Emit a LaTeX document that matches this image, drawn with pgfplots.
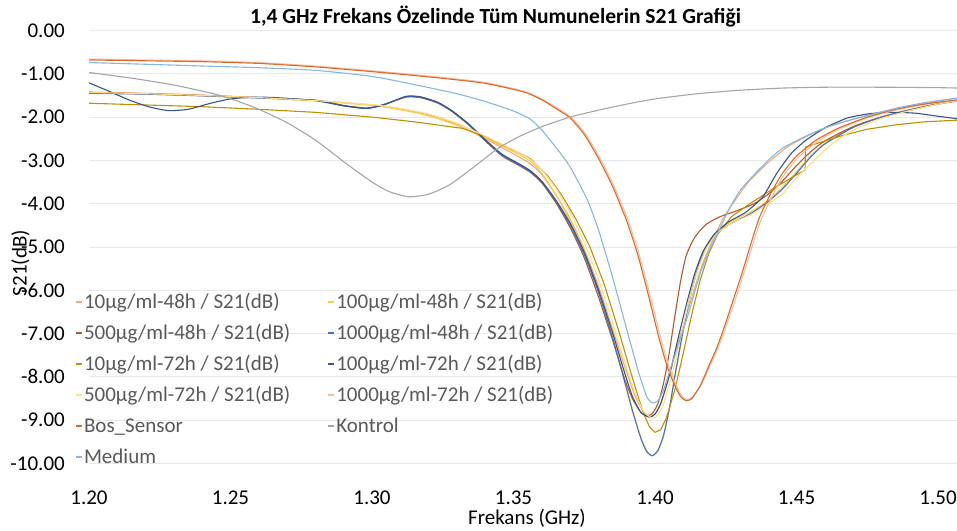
\documentclass[border=0pt]{standalone}
\usepackage{pgfplots}
\pgfplotsset{compat=1.18}
\usepackage{fontspec}
\setmainfont{Carlito}
\definecolor{c1}{HTML}{F1A97A}
\definecolor{c2}{HTML}{FFCB4C}
\definecolor{c3}{HTML}{B4582A}
\definecolor{c4}{HTML}{4472C4}
\definecolor{c5}{HTML}{BF9000}
\definecolor{c6}{HTML}{35558F}
\definecolor{c7}{HTML}{FFDF80}
\definecolor{c8}{HTML}{F8BE9A}
\definecolor{c9}{HTML}{DB6A2C}
\definecolor{c10}{HTML}{A5A5A5}
\definecolor{c11}{HTML}{86B6E2}
\definecolor{gridgray}{HTML}{E8E8E8}
\definecolor{leggray}{HTML}{595959}
\begin{document}
\begin{tikzpicture}
\begin{axis}[
  at={(89bp,67.5bp)}, anchor=south west,
  scale only axis, width=868bp, height=433bp,
  xmin=1.2, xmax=1.5067, ymin=-10, ymax=0,
  xtick={1.20,1.25,1.30,1.35,1.40,1.45,1.50},
  ytick={0,-1,-2,-3,-4,-5,-6,-7,-8,-9,-10},
  axis line style={draw=none},
  major tick length=0pt,
  ymajorgrids, grid style={color=gridgray, line width=0.8bp},
  /pgf/number format/assume math mode=true,
  tick label style={font=\fontsize{21bp}{25bp}\selectfont, text=black, inner sep=0pt},
  xticklabel style={anchor=base, yshift=-40.8bp, /pgf/number format/.cd, fixed, fixed zerofill, precision=2},
  yticklabel style={anchor=east, xshift=-24bp, /pgf/number format/.cd, fixed, fixed zerofill, precision=2},
  every axis plot/.append style={line width=1.1bp, smooth, tension=0.35},
  legend columns=2,
  legend cell align=left,
  legend image code/.code={\draw[#1, line width=2bp, sharp plot] (0bp,0.28em) -- (6bp,0.28em);},
  legend style={draw=none, fill=none, inner sep=0pt, outer sep=0pt,
    at={(axis description cs:-0.0161,0.3915)}, anchor=north west,
    font=\fontsize{21bp}{25bp}\selectfont, text=leggray,
    row sep=10bp,
    nodes={inner sep=1bp, text height=14bp, text depth=5bp},
    /tikz/column 2/.style={column sep=36bp}},
]
% 10ug/ml-48h
\addplot[c1] coordinates {(1.200,-1.42)(1.220,-1.45)(1.240,-1.49)(1.260,-1.55)(1.280,-1.62)(1.300,-1.72)(1.310,-1.81)(1.320,-1.95)(1.330,-2.17)(1.340,-2.50)(1.350,-2.85)(1.356,-3.08)(1.360,-3.33)(1.365,-3.80)(1.370,-4.35)(1.375,-5.05)(1.380,-5.90)(1.385,-6.90)(1.390,-7.90)(1.393,-8.45)(1.396,-8.82)(1.398,-8.92)(1.400,-8.86)(1.402,-8.62)(1.405,-8.00)(1.408,-7.25)(1.411,-6.60)(1.414,-5.95)(1.417,-5.35)(1.420,-4.90)(1.424,-4.35)(1.428,-3.95)(1.433,-3.50)(1.440,-3.05)(1.447,-2.68)(1.455,-2.40)(1.462,-2.20)(1.470,-2.05)(1.480,-1.88)(1.490,-1.74)(1.500,-1.63)(1.507,-1.56)};
\addlegendentry{10µg/ml-48h / S21(dB)}
% 100ug/ml-48h
\addplot[c2] coordinates {(1.200,-1.44)(1.220,-1.47)(1.240,-1.51)(1.260,-1.56)(1.280,-1.63)(1.300,-1.73)(1.310,-1.83)(1.320,-1.97)(1.330,-2.19)(1.340,-2.48)(1.350,-2.80)(1.356,-3.02)(1.360,-3.30)(1.365,-3.80)(1.370,-4.40)(1.375,-5.10)(1.380,-6.00)(1.385,-7.05)(1.389,-8.00)(1.392,-8.75)(1.395,-9.40)(1.397,-9.70)(1.399,-9.82)(1.401,-9.72)(1.403,-9.38)(1.405,-8.78)(1.407,-8.02)(1.410,-6.95)(1.413,-6.00)(1.416,-5.30)(1.419,-4.88)(1.423,-4.58)(1.428,-4.38)(1.434,-4.18)(1.440,-3.92)(1.445,-3.62)(1.450,-3.26)(1.455,-2.90)(1.460,-2.60)(1.470,-2.22)(1.480,-1.99)(1.490,-1.83)(1.500,-1.69)(1.507,-1.62)};
\addlegendentry{100µg/ml-48h / S21(dB)}
% 500ug/ml-48h
\addplot[c3] coordinates {(1.200,-1.43)(1.220,-1.46)(1.240,-1.50)(1.260,-1.55)(1.280,-1.61)(1.290,-1.73)(1.298,-1.79)(1.304,-1.71)(1.312,-1.54)(1.317,-1.55)(1.323,-1.67)(1.328,-1.86)(1.334,-2.17)(1.340,-2.55)(1.346,-2.90)(1.352,-3.12)(1.356,-3.28)(1.360,-3.52)(1.365,-3.98)(1.370,-4.55)(1.375,-5.25)(1.380,-6.15)(1.385,-7.15)(1.389,-8.00)(1.392,-8.50)(1.395,-8.82)(1.397,-8.90)(1.399,-8.85)(1.401,-8.62)(1.403,-8.15)(1.405,-7.45)(1.407,-6.60)(1.409,-5.80)(1.411,-5.20)(1.414,-4.78)(1.418,-4.48)(1.423,-4.30)(1.429,-4.16)(1.435,-4.00)(1.440,-3.78)(1.445,-3.48)(1.450,-3.12)(1.455,-2.80)(1.460,-2.55)(1.470,-2.22)(1.480,-2.00)(1.490,-1.83)(1.500,-1.69)(1.507,-1.62)};
\addlegendentry{500µg/ml-48h / S21(dB)}
% 1000ug/ml-48h
\addplot[c4] coordinates {(1.200,-1.45)(1.220,-1.47)(1.240,-1.51)(1.260,-1.56)(1.280,-1.61)(1.290,-1.74)(1.298,-1.80)(1.304,-1.72)(1.312,-1.53)(1.317,-1.54)(1.323,-1.66)(1.328,-1.85)(1.334,-2.16)(1.340,-2.54)(1.346,-2.88)(1.352,-3.10)(1.356,-3.26)(1.360,-3.50)(1.365,-3.95)(1.370,-4.50)(1.375,-5.18)(1.380,-6.05)(1.385,-7.10)(1.389,-8.05)(1.392,-8.78)(1.395,-9.42)(1.397,-9.72)(1.399,-9.82)(1.401,-9.70)(1.403,-9.35)(1.405,-8.75)(1.407,-7.98)(1.410,-6.90)(1.413,-5.98)(1.416,-5.32)(1.419,-4.92)(1.423,-4.62)(1.428,-4.42)(1.434,-4.22)(1.440,-3.95)(1.445,-3.66)(1.450,-3.30)(1.455,-2.92)(1.460,-2.62)(1.470,-2.24)(1.480,-2.00)(1.490,-1.84)(1.500,-1.70)(1.507,-1.63)};
\addlegendentry{1000µg/ml-48h / S21(dB)}
% 10ug/ml-72h
\addplot[c5, sharp plot] coordinates {(1.200,-1.68)(1.220,-1.72)(1.240,-1.76)(1.260,-1.82)(1.280,-1.89)(1.300,-2.00)(1.315,-2.11)(1.332,-2.26)(1.340,-2.45)(1.348,-2.70)(1.356,-2.96)(1.362,-3.35)(1.367,-3.80)(1.372,-4.35)(1.377,-5.00)(1.382,-5.85)(1.387,-6.90)(1.391,-7.80)(1.394,-8.45)(1.396,-8.85)(1.398,-9.15)(1.400,-9.28)(1.402,-9.22)(1.404,-8.95)(1.407,-8.30)(1.410,-7.45)(1.413,-6.55)(1.416,-5.75)(1.419,-5.15)(1.422,-4.72)(1.427,-4.30)(1.434,-3.98)(1.443,-3.60)(1.453,-3.22)(1.4532,-2.69)(1.460,-2.55)(1.467,-2.41)(1.475,-2.28)(1.485,-2.18)(1.495,-2.11)(1.507,-2.07)};
\addlegendentry{10µg/ml-72h / S21(dB)}
% 100ug/ml-72h
\addplot[c6] coordinates {(1.200,-1.21)(1.207,-1.40)(1.214,-1.60)(1.221,-1.76)(1.228,-1.85)(1.235,-1.82)(1.243,-1.68)(1.250,-1.58)(1.258,-1.54)(1.266,-1.55)(1.280,-1.62)(1.290,-1.74)(1.298,-1.80)(1.304,-1.72)(1.312,-1.52)(1.317,-1.53)(1.323,-1.65)(1.328,-1.84)(1.334,-2.15)(1.340,-2.52)(1.346,-2.86)(1.352,-3.08)(1.356,-3.24)(1.360,-3.48)(1.365,-3.92)(1.370,-4.45)(1.375,-5.12)(1.380,-5.98)(1.385,-6.98)(1.389,-7.85)(1.392,-8.45)(1.395,-8.82)(1.398,-8.93)(1.400,-8.86)(1.402,-8.62)(1.405,-7.98)(1.408,-7.15)(1.411,-6.35)(1.414,-5.62)(1.417,-5.10)(1.421,-4.70)(1.426,-4.42)(1.432,-4.20)(1.438,-3.85)(1.443,-3.30)(1.448,-2.85)(1.453,-2.55)(1.460,-2.25)(1.468,-2.02)(1.476,-1.92)(1.484,-1.89)(1.492,-1.91)(1.500,-1.98)(1.507,-2.04)};
\addlegendentry{100µg/ml-72h / S21(dB)}
% 500ug/ml-72h
\addplot[c7] coordinates {(1.200,-1.43)(1.220,-1.46)(1.240,-1.50)(1.260,-1.55)(1.280,-1.62)(1.300,-1.71)(1.310,-1.80)(1.320,-1.93)(1.330,-2.14)(1.340,-2.44)(1.350,-2.76)(1.356,-2.98)(1.360,-3.22)(1.365,-3.65)(1.370,-4.20)(1.375,-4.90)(1.380,-5.75)(1.385,-6.75)(1.390,-7.80)(1.393,-8.38)(1.396,-8.80)(1.399,-8.95)(1.401,-8.88)(1.403,-8.62)(1.406,-7.95)(1.409,-7.10)(1.412,-6.25)(1.415,-5.55)(1.418,-5.05)(1.422,-4.68)(1.428,-4.42)(1.434,-4.25)(1.440,-4.00)(1.445,-3.78)(1.450,-3.40)(1.457,-2.95)(1.463,-2.60)(1.470,-2.30)(1.480,-2.03)(1.490,-1.85)(1.500,-1.70)(1.507,-1.62)};
\addlegendentry{500µg/ml-72h / S21(dB)}
% 1000ug/ml-72h
\addplot[c8] coordinates {(1.200,-0.66)(1.220,-0.68)(1.240,-0.70)(1.260,-0.74)(1.280,-0.82)(1.300,-0.93)(1.315,-1.02)(1.330,-1.12)(1.340,-1.20)(1.350,-1.34)(1.355,-1.43)(1.360,-1.58)(1.365,-1.77)(1.370,-1.98)(1.375,-2.35)(1.380,-2.88)(1.385,-3.52)(1.390,-4.30)(1.394,-5.08)(1.398,-6.05)(1.401,-6.85)(1.404,-7.58)(1.407,-8.12)(1.409,-8.40)(1.411,-8.52)(1.413,-8.48)(1.416,-8.22)(1.419,-7.80)(1.422,-7.38)(1.425,-6.85)(1.428,-6.28)(1.431,-5.68)(1.434,-5.05)(1.437,-4.45)(1.441,-3.88)(1.445,-3.40)(1.450,-2.97)(1.457,-2.58)(1.465,-2.28)(1.475,-2.02)(1.485,-1.84)(1.495,-1.71)(1.507,-1.61)};
\addlegendentry{1000µg/ml-72h / S21(dB)}
% Bos_Sensor
\addplot[c9] coordinates {(1.200,-0.68)(1.220,-0.70)(1.240,-0.72)(1.260,-0.76)(1.280,-0.84)(1.300,-0.95)(1.315,-1.04)(1.330,-1.14)(1.340,-1.22)(1.350,-1.36)(1.355,-1.45)(1.360,-1.60)(1.365,-1.80)(1.370,-2.02)(1.375,-2.40)(1.380,-2.95)(1.385,-3.60)(1.390,-4.40)(1.394,-5.20)(1.398,-6.20)(1.401,-7.00)(1.404,-7.70)(1.407,-8.20)(1.409,-8.45)(1.411,-8.55)(1.413,-8.50)(1.416,-8.20)(1.419,-7.75)(1.422,-7.30)(1.425,-6.75)(1.428,-6.15)(1.431,-5.55)(1.434,-4.90)(1.437,-4.30)(1.441,-3.75)(1.445,-3.30)(1.450,-2.90)(1.457,-2.53)(1.465,-2.25)(1.475,-2.00)(1.485,-1.82)(1.495,-1.70)(1.507,-1.60)};
\addlegendentry{Bos\_Sensor}
% Kontrol
\addplot[c10] coordinates {(1.200,-0.97)(1.215,-1.10)(1.230,-1.26)(1.244,-1.46)(1.252,-1.62)(1.260,-1.82)(1.270,-2.13)(1.280,-2.53)(1.291,-3.08)(1.300,-3.50)(1.306,-3.72)(1.313,-3.84)(1.320,-3.78)(1.327,-3.58)(1.333,-3.30)(1.339,-3.00)(1.345,-2.70)(1.352,-2.45)(1.360,-2.22)(1.370,-2.00)(1.380,-1.84)(1.390,-1.70)(1.400,-1.58)(1.415,-1.46)(1.430,-1.38)(1.445,-1.33)(1.460,-1.31)(1.480,-1.31)(1.500,-1.32)(1.507,-1.33)};
\addlegendentry{Kontrol}
% Medium
\addplot[c11] coordinates {(1.200,-0.74)(1.220,-0.78)(1.240,-0.82)(1.260,-0.86)(1.280,-0.92)(1.300,-1.06)(1.315,-1.25)(1.330,-1.46)(1.340,-1.64)(1.350,-1.86)(1.356,-2.05)(1.360,-2.30)(1.365,-2.70)(1.370,-3.15)(1.376,-3.90)(1.380,-4.60)(1.385,-5.70)(1.390,-6.90)(1.394,-7.85)(1.397,-8.45)(1.399,-8.60)(1.401,-8.55)(1.403,-8.30)(1.406,-7.70)(1.409,-7.10)(1.412,-6.50)(1.416,-5.60)(1.419,-5.10)(1.422,-4.70)(1.426,-4.15)(1.430,-3.70)(1.434,-3.40)(1.440,-3.00)(1.445,-2.72)(1.452,-2.48)(1.460,-2.25)(1.470,-2.05)(1.485,-1.80)(1.495,-1.67)(1.507,-1.56)};
\addlegendentry{Medium}
\end{axis}
\node[anchor=base west, inner sep=0pt, font=\fontsize{21.5bp}{25bp}\selectfont\bfseries] at (250bp,507.5bp) {1,4 GHz Frekans Özelinde Tüm Numunelerin S21 Grafiği};
\node[anchor=base, inner sep=0pt, font=\fontsize{21bp}{25bp}\selectfont] at (527bp,7bp) {Frekans (GHz)};
\node[rotate=90, inner sep=0pt, font=\fontsize{21bp}{25bp}\selectfont] at (20.5bp,268bp) {S21(dB)};
\pgfresetboundingbox
\path (0,0) rectangle (957bp,531bp);
\end{tikzpicture}
\end{document}
